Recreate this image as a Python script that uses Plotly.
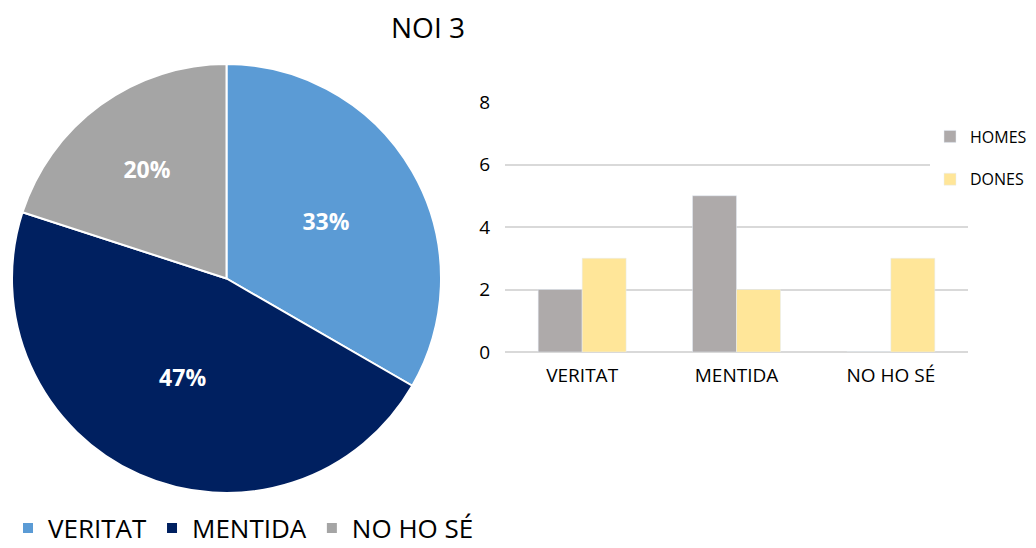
import plotly.graph_objects as go

categories = ['VERITAT', 'MENTIDA', 'NO HO SÉ']
pie_values = [5, 7, 3]
homes = [2, 5, 0]
dones = [3, 2, 3]
y_ticks = [0, 2, 4, 6, 8]

pie_colors = ['#5B9BD5', '#002060', '#A5A5A5']
color_homes = '#AEAAAA'
color_dones = '#FFE699'
font_family = 'Open Sans, Noto Sans, sans-serif'

# the page body has an 8px margin, so the figure is drawn 8px smaller
# and every position below is given in window pixels and converted
OFF = 8
W, H = 1036 - OFF, 548 - OFF


def px(x):
    return (x - OFF) / W


def py(y):
    return 1 - (y - OFF) / H


fig = go.Figure()

# ----------------------------------------------
# pie on the left
fig.add_trace(go.Pie(
    labels=categories,
    values=pie_values,
    sort=False,
    direction='clockwise',
    rotation=0,
    marker=dict(colors=pie_colors, line=dict(color='white', width=2)),
    texttemplate='%{percent:.0%}',
    textposition='inside',
    insidetextorientation='horizontal',
    textfont=dict(color='white', size=23, family=font_family, weight='bold'),
    domain=dict(x=[px(12), px(441)], y=[py(493), py(64)]),
    legend='legend',
    hoverinfo='label+value+percent'))

# ----------------------------------------------
# bars on the right
fig.add_trace(go.Bar(
    x=categories, y=homes, name='HOMES', legendgroup='homes',
    marker_color=color_homes, legend='legend2'))
fig.add_trace(go.Bar(
    x=categories, y=dones, name='DONES', legendgroup='dones',
    marker_color=color_dones, legend='legend2'))

fig.update_layout(
    width=W, height=H,
    # fixed margins, legends must not push the plot area around
    margin=dict(l=0, r=0, t=0, b=0, autoexpand=False),
    paper_bgcolor='white',
    plot_bgcolor='white',
    font=dict(family=font_family, color='#000000'),
    title=dict(text='NOI 3', x=px(428), xanchor='center', y=py(28), yanchor='middle',
               font=dict(size=28, color='#000000')),
    barmode='group',
    bargap=0.43,
    bargroupgap=0,
    xaxis=dict(domain=[px(505), px(968)], showgrid=False, showline=False,
               ticks='', tickfont=dict(size=19), ticklabelstandoff=10),
    yaxis=dict(domain=[py(352), py(102)], range=[0, 8], tickvals=y_ticks,
               showgrid=True, gridcolor='#D9D9D9', gridwidth=1.5, zeroline=True,
               zerolinecolor='#D9D9D9', zerolinewidth=1.5, showline=False,
               tickfont=dict(size=19), ticklabelstandoff=14),
    legend=dict(orientation='h', x=px(8), xanchor='left', y=py(528), yanchor='middle',
                font=dict(size=26), itemwidth=30, tracegroupgap=0),
    legend2=dict(orientation='v', x=px(930), xanchor='left', y=py(158), yanchor='middle',
                 font=dict(size=16), itemwidth=30, tracegroupgap=19),
)

fig.write_html('out.html')
